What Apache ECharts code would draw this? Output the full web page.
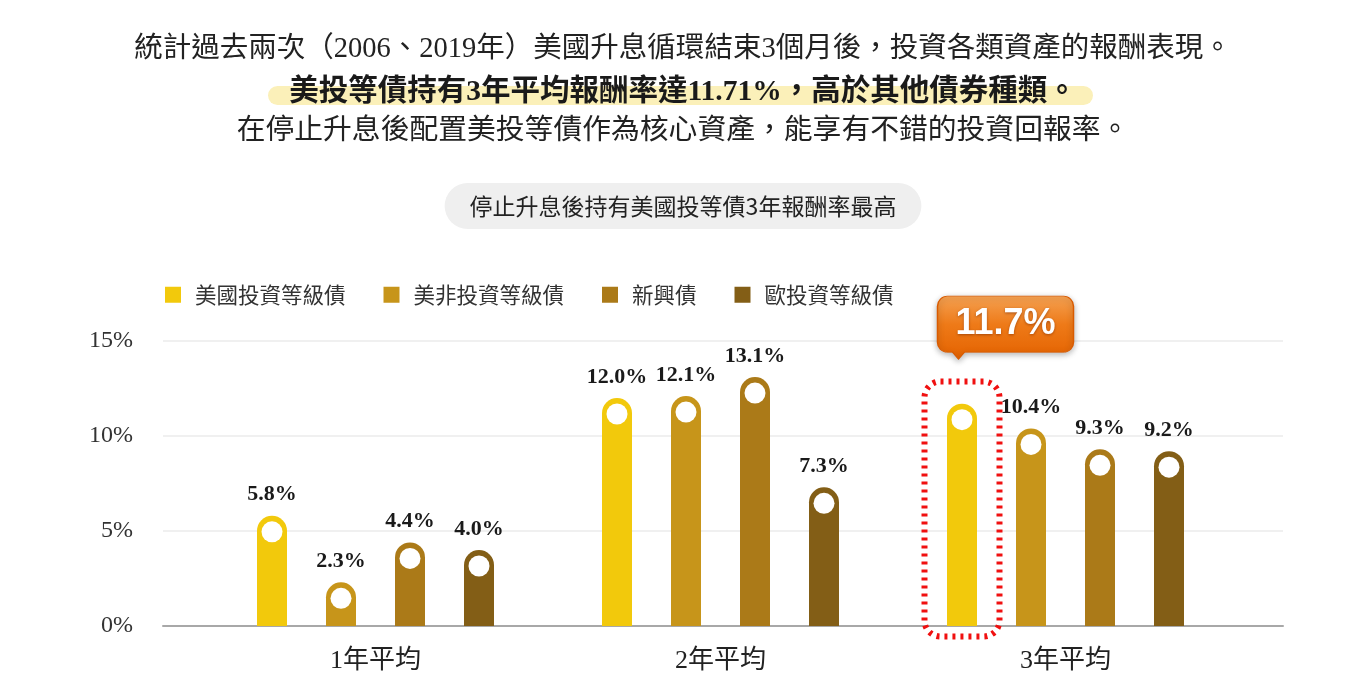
<!DOCTYPE html>
<html><head><meta charset="utf-8">
<script src="https://cdn.jsdelivr.net/npm/echarts@6/dist/echarts.min.js"></script>
<style>html,body{margin:0;padding:0;background:#fff}#c{width:1366px;height:700px}</style>
</head><body><div id="c"></div>
<script>
const categories = ['1年平均', '2年平均', '3年平均'];
const seriesNames = ['美國投資等級債', '美非投資等級債', '新興債', '歐投資等級債'];
const usIG = [5.8, 12.0, 11.7];
const usHY = [2.3, 12.1, 10.4];
const emBond = [4.4, 13.1, 9.3];
const euIG = [4.0, 7.3, 9.2];
const yTicks = [0, 5, 10, 15];
const highlightIndex = 2;

const colors = ['#f2c90c', '#c7951a', '#ab7a18', '#835e16'];
const allValues = [usIG, usHY, emBond, euIG];
const serif = "'Liberation Serif','Noto Sans CJK TC',serif";
const cjk = "'Noto Sans CJK TC','Noto Sans',sans-serif";
const step = 69;

const chart = echarts.init(document.getElementById('c'));

const series = [];
allValues.forEach((vals, k) => {
  series.push({
    name: seriesNames[k], type: 'bar', xAxisIndex: 1, yAxisIndex: 1,
    barWidth: 30, barGap: '130%',
    itemStyle: { color: colors[k], borderRadius: [15, 15, 0, 0] },
    label: {
      show: true, position: 'top', distance: 10,
      fontFamily: serif, fontSize: 22, fontWeight: 'bold', color: '#1a1a1a',
      formatter: p => p.value.toFixed(1) + '%'
    },
    data: vals.map((v, i) => (k === 0 && i === highlightIndex)
      ? { value: v, label: { show: false } } : v),
    z: 2
  });
});
allValues.forEach((vals, k) => {
  series.push({
    type: 'scatter', xAxisIndex: 1, yAxisIndex: 1, silent: true,
    symbol: 'circle', symbolSize: 21, symbolOffset: [(k - 1.5) * step, 16],
    itemStyle: { color: '#ffffff', opacity: 1 },
    data: vals.map((v, i) => [i, v]), z: 4
  });
});
// dotted frame around highlighted bar (drawn as an empty label box)
series.push({
  type: 'scatter', xAxisIndex: 1, yAxisIndex: 1, silent: true,
  symbol: 'rect', symbolSize: 2, symbolOffset: [-1.5 * step, -117],
  itemStyle: { color: 'rgba(0,0,0,0)', opacity: 1 },
  label: {
    show: true, position: 'inside', formatter: ' ',
    width: 75, height: 255, padding: 0, fontSize: 10,
    backgroundColor: 'rgba(0,0,0,0)',
    borderColor: '#f01010', borderWidth: 3, borderType: [3, 5], borderRadius: 16
  },
  data: [[highlightIndex, 0]], z: 5
});
// callout
series.push({
  type: 'scatter', xAxisIndex: 1, yAxisIndex: 1, silent: true,
  symbol: 'path://M10,0H126A10,10 0 0 1 136,10V46A10,10 0 0 1 126,56H27L21,63L15,56H10A10,10 0 0 1 0,46V10A10,10 0 0 1 10,0Z',
  symbolSize: [136, 63], symbolOffset: [-60, -76],
  itemStyle: {
    opacity: 1,
    color: new echarts.graphic.LinearGradient(0, 0, 0, 1, [
      { offset: 0, color: '#f4a152' }, { offset: 0.45, color: '#ee7a18' }, { offset: 1, color: '#e46200' }]),
    borderColor: '#d95b00', borderWidth: 1,
    shadowBlur: 6, shadowColor: 'rgba(0,0,0,0.3)', shadowOffsetY: 2
  },
  label: {
    show: true, position: 'inside', offset: [0, -4],
    formatter: p => p.value[1].toFixed(1) + '%',
    fontFamily: "'Liberation Sans','Noto Sans',sans-serif", fontSize: 36, fontWeight: 'bold', color: '#fff',
    textShadowColor: 'rgba(120,40,0,0.6)', textShadowBlur: 3, textShadowOffsetY: 1
  },
  data: [[highlightIndex, usIG[highlightIndex]]], z: 6
});

chart.setOption({
  animation: false,
  title: [
    { text: '統計過去兩次（2006、2019年）美國升息循環結束3個月後，投資各類資產的報酬表現。',
      left: 'center', top: 33, padding: 0, z: 5,
      textStyle: { fontFamily: serif, fontSize: 28.5, fontWeight: 'normal', color: '#222', lineHeight: 34 } },
    { text: '美投等債持有3年平均報酬率達11.71%，高於其他債券種類。',
      left: 'center', top: 75, padding: 0, z: 5,
      textStyle: { fontFamily: serif, fontSize: 29.5, fontWeight: 'bold', color: '#1a1a1a', lineHeight: 34 } },
    { text: '在停止升息後配置美投等債作為核心資產，能享有不錯的投資回報率。',
      left: 'center', top: 114, padding: 0, z: 5,
      textStyle: { fontFamily: serif, fontSize: 28.8, fontWeight: 'normal', color: '#222', lineHeight: 34 } },
    { text: '停止升息後持有美國投等債3年報酬率最高',
      left: 'center', top: 183, padding: [0, 25], backgroundColor: '#efefef', borderRadius: 23,
      textStyle: { fontFamily: cjk, fontSize: 23, fontWeight: 'normal', color: '#222', lineHeight: 46 } }
  ],
  graphic: [
    { type: 'rect', z: 0, shape: { x: 268, y: 86, width: 825, height: 19, r: 9.5 }, style: { fill: '#fbf0b9' } }
  ],
  legend: {
    data: seriesNames, left: 160, top: 279, icon: 'rect', itemWidth: 16, itemHeight: 16, itemGap: 38,
    textStyle: { fontFamily: cjk, fontSize: 21.5, color: '#333', padding: [0, 0, 0, 9] }
  },
  grid: [
    { left: 163, right: 83, top: 341, bottom: 74 },
    { left: 203, right: 128, top: 341, bottom: 74 }
  ],
  xAxis: [
    { type: 'category', gridIndex: 0, data: [''],
      axisLine: { show: true, lineStyle: { color: '#a8a8a8', width: 2 } },
      axisTick: { show: false }, axisLabel: { show: false } },
    { type: 'category', gridIndex: 1, data: categories,
      axisLine: { show: false }, axisTick: { show: false },
      axisLabel: { margin: 22, fontFamily: serif, fontSize: 26, color: '#222' } }
  ],
  yAxis: [
    { type: 'value', gridIndex: 0, min: yTicks[0], max: yTicks[yTicks.length - 1], interval: 5,
      axisLine: { show: false }, axisTick: { show: false },
      axisLabel: { margin: 30, fontFamily: serif, fontSize: 24, color: '#333', formatter: '{value}%' },
      splitLine: { lineStyle: { color: '#ebebeb', width: 1.5 } } },
    { type: 'value', gridIndex: 1, min: yTicks[0], max: yTicks[yTicks.length - 1], interval: 5,
      show: false, splitLine: { show: false } }
  ],
  series: series
});
</script>
</body></html>
